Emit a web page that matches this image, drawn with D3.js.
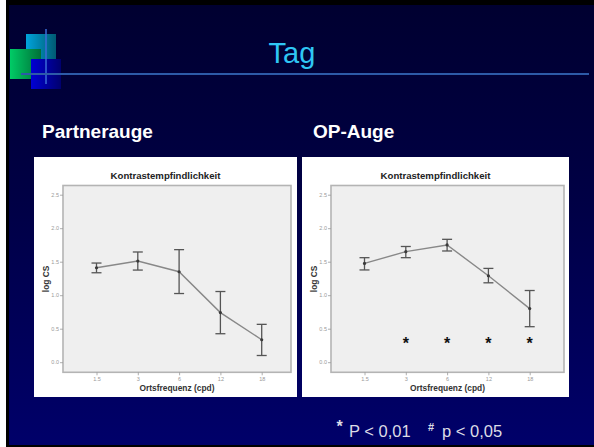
<!DOCTYPE html>
<html>
<head>
<meta charset="utf-8">
<script src="https://cdn.jsdelivr.net/npm/d3@7"></script>
<style>
  html, body { margin: 0; padding: 0; background: #000033; }
  svg { display: block; font-family: "Liberation Sans", Arial, sans-serif; }
</style>
</head>
<body>
<div id="slide"></div>
<script>
// Spatial frequency categories (cpd)
const freqs = ['1.5', '3', '6', '12', '18'];

// Partnerauge: mean log CS and 95% CI
const partnerMean = [1.41, 1.51, 1.35, 0.74, 0.335];
const partnerLow  = [1.335, 1.375, 1.025, 0.425, 0.10];
const partnerHigh = [1.48, 1.645, 1.68, 1.055, 0.565];

// OP-Auge: mean log CS and 95% CI
const opMean = [1.475, 1.65, 1.75, 1.29, 0.80];
const opLow  = [1.377, 1.56, 1.66, 1.185, 0.53];
const opHigh = [1.56, 1.727, 1.834, 1.40, 1.07];

// significant frequencies (p < 0.01) and height of the markers
const opStars = ['3', '6', '12', '18'];
const starLevel = 0.28;

const yTicks = [0, 0.5, 1.0, 1.5, 2.0, 2.5];

const W = 594, H = 447;

const svg = d3.select('#slide')
  .append('svg')
  .attr('width', W)
  .attr('height', H);

const defs = svg.append('defs');

function hGrad(id, from, to) {
  const g = defs.append('linearGradient').attr('id', id)
    .attr('x1', 0).attr('y1', 0).attr('x2', 1).attr('y2', 0);
  g.append('stop').attr('offset', 0).attr('stop-color', from);
  g.append('stop').attr('offset', 1).attr('stop-color', to);
}

const bg = defs.append('linearGradient').attr('id', 'bg')
  .attr('x1', 0).attr('y1', 0).attr('x2', 0).attr('y2', 1);
bg.append('stop').attr('offset', 0).attr('stop-color', '#000030');
bg.append('stop').attr('offset', 0.45).attr('stop-color', '#000045');
bg.append('stop').attr('offset', 1).attr('stop-color', '#00006a');

hGrad('gCyan', '#00a4dc', '#005a72');
hGrad('gGreen', '#00cc66', '#007038');
hGrad('gBlue', '#0000d4', '#00006e');

// slide background and frame
svg.append('rect').attr('width', W).attr('height', H).attr('fill', 'url(#bg)');
svg.append('rect').attr('x', 0).attr('y', 0).attr('width', 6).attr('height', H).attr('fill', '#ffffff');
svg.append('rect').attr('x', 6).attr('y', 0).attr('width', 3).attr('height', H).attr('fill', '#000000');
svg.append('rect').attr('x', 6).attr('y', 0).attr('width', W).attr('height', 5).attr('fill', '#000000');
svg.append('rect').attr('x', 6).attr('y', H - 2).attr('width', W).attr('height', 2).attr('fill', '#000000');

// logo squares
svg.append('rect').attr('x', 26).attr('y', 34).attr('width', 30).attr('height', 25).attr('fill', 'url(#gCyan)');
svg.append('rect').attr('x', 10).attr('y', 49).attr('width', 31).attr('height', 30).attr('fill', 'url(#gGreen)');
svg.append('rect').attr('x', 31).attr('y', 59).attr('width', 30).attr('height', 30).attr('fill', 'url(#gBlue)');
svg.append('rect').attr('x', 45).attr('y', 29).attr('width', 2).attr('height', 55)
  .attr('fill', '#3a6cd8').attr('opacity', 0.75);
svg.append('rect').attr('x', 21).attr('y', 73).attr('width', 568).attr('height', 2)
  .attr('fill', '#2d5aa8');

// title
svg.append('text')
  .attr('x', 292).attr('y', 63)
  .attr('text-anchor', 'middle')
  .attr('fill', '#2fc6f4')
  .attr('font-size', '29px')
  .text('Tag');

svg.append('text')
  .attr('x', 42).attr('y', 138)
  .attr('fill', '#ffffff')
  .attr('font-size', '19px')
  .attr('font-weight', 'bold')
  .text('Partnerauge');

svg.append('text')
  .attr('x', 313).attr('y', 138)
  .attr('fill', '#ffffff')
  .attr('font-size', '19px')
  .attr('font-weight', 'bold')
  .text('OP-Auge');

/**
 * Draw one SPSS-style error bar chart inside a white box
 */
function drawPanel(box, plot, means, lows, highs, stars) {
  const g = svg.append('g');

  g.append('rect')
    .attr('x', box.x).attr('y', box.y)
    .attr('width', box.w).attr('height', box.h)
    .attr('fill', '#ffffff');

  g.append('text')
    .attr('x', box.x + box.w / 2).attr('y', 179)
    .attr('text-anchor', 'middle')
    .attr('fill', '#222')
    .attr('font-size', '9.6px')
    .attr('font-weight', 'bold')
    .text('Kontrastempfindlichkeit');

  g.append('rect')
    .attr('x', plot.x0).attr('y', plot.y0)
    .attr('width', plot.x1 - plot.x0).attr('height', plot.y1 - plot.y0)
    .attr('fill', '#efefef')
    .attr('stroke', '#b4b4b4')
    .attr('stroke-width', 1.6);

  const x = d3.scalePoint()
    .domain(freqs)
    .range([plot.x0 + 33.5, plot.x0 + 33.5 + 4 * 41.3]);

  const y = d3.scaleLinear()
    .domain([0, 2.5])
    .range([362.2, 194.7]);

  const yAxis = d3.axisLeft(y)
    .tickValues(yTicks)
    .tickFormat(d3.format('.1f'))
    .tickSize(3)
    .tickPadding(1);

  const xAxis = d3.axisBottom(x)
    .tickSize(3)
    .tickPadding(2);

  const ya = g.append('g')
    .attr('transform', `translate(${plot.x0},0)`)
    .call(yAxis);
  const xa = g.append('g')
    .attr('transform', `translate(0,${plot.y1})`)
    .call(xAxis);

  [ya, xa].forEach(a => {
    a.select('.domain').remove();
    a.selectAll('line').attr('stroke', '#999').attr('stroke-width', 0.8);
    a.selectAll('text')
      .attr('fill', '#999')
      .attr('font-size', '5.5px')
      .attr('font-family', '"Liberation Sans", Arial, sans-serif');
  });

  g.append('text')
    .attr('x', (plot.x0 + plot.x1) / 2).attr('y', 390.5)
    .attr('text-anchor', 'middle')
    .attr('fill', '#333')
    .attr('font-size', '8.4px')
    .attr('font-weight', 'bold')
    .text('Ortsfrequenz (cpd)');

  g.append('text')
    .attr('transform', `translate(${plot.x0 - 14},${(plot.y0 + plot.y1) / 2}) rotate(-90)`)
    .attr('text-anchor', 'middle')
    .attr('fill', '#333')
    .attr('font-size', '8.4px')
    .attr('font-weight', 'bold')
    .text('log CS');

  const pts = freqs.map((f, i) => ({ f, m: means[i], lo: lows[i], hi: highs[i] }));

  // connecting line
  g.append('path')
    .datum(pts)
    .attr('fill', 'none')
    .attr('stroke', '#888')
    .attr('stroke-width', 1.4)
    .attr('d', d3.line().x(d => x(d.f)).y(d => y(d.m)));

  // error bars
  const eb = g.append('g')
    .attr('stroke', '#555')
    .attr('stroke-width', 1.3);

  eb.selectAll('line.v')
    .data(pts).join('line')
    .attr('x1', d => x(d.f)).attr('x2', d => x(d.f))
    .attr('y1', d => y(d.lo)).attr('y2', d => y(d.hi));

  eb.selectAll('line.top')
    .data(pts).join('line')
    .attr('class', 'top')
    .attr('x1', d => x(d.f) - 5).attr('x2', d => x(d.f) + 5)
    .attr('y1', d => y(d.hi)).attr('y2', d => y(d.hi));

  eb.selectAll('line.bot')
    .data(pts).join('line')
    .attr('class', 'bot')
    .attr('x1', d => x(d.f) - 5).attr('x2', d => x(d.f) + 5)
    .attr('y1', d => y(d.lo)).attr('y2', d => y(d.lo));

  g.selectAll('circle.m')
    .data(pts).join('circle')
    .attr('cx', d => x(d.f)).attr('cy', d => y(d.m))
    .attr('r', 1.6)
    .attr('fill', '#3a3a3a');

  g.selectAll('text.star')
    .data(stars).join('text')
    .attr('class', 'star')
    .attr('x', d => x(d)).attr('y', y(starLevel) + 6)
    .attr('text-anchor', 'middle')
    .attr('fill', '#111')
    .attr('font-size', '16px')
    .attr('font-weight', 'bold')
    .text('*');
}

drawPanel(
  { x: 34, y: 157, w: 263, h: 240 },
  { x0: 63, x1: 291, y0: 185.5, y1: 372.3 },
  partnerMean, partnerLow, partnerHigh, []
);

drawPanel(
  { x: 302, y: 157, w: 267, h: 240 },
  { x0: 331, x1: 564, y0: 185.5, y1: 372.3 },
  opMean, opLow, opHigh, opStars
);

// footnote
const foot = svg.append('text')
  .attr('y', 437)
  .attr('fill', '#dcdce6')
  .attr('font-size', '16.5px');
foot.append('tspan').attr('x', 336.5).attr('dy', -5).attr('font-size', '16px').attr('font-weight', 'bold').text('*');
foot.append('tspan').attr('x', 349).attr('dy', 5).text('P < 0,01');
foot.append('tspan').attr('x', 428).attr('dy', -6).attr('font-size', '11px').attr('font-weight', 'bold').text('#');
foot.append('tspan').attr('x', 442).attr('dy', 6).text('p < 0,05');
</script>
</body>
</html>
